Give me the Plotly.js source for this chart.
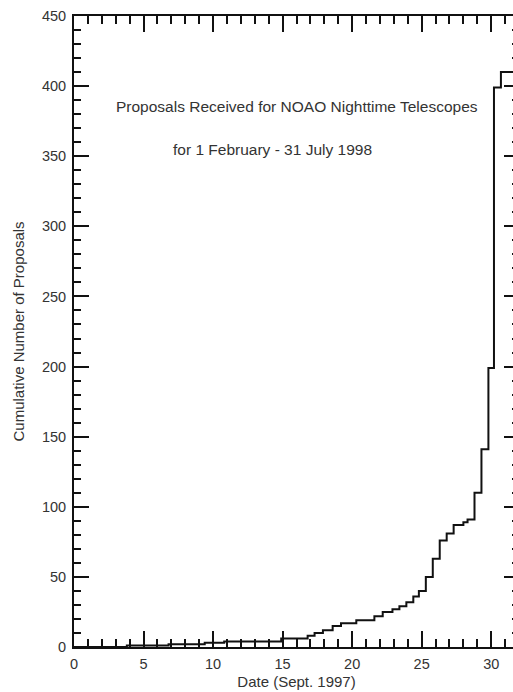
<!DOCTYPE html>
<html>
<head>
<meta charset="utf-8">
<script src="https://cdn.plot.ly/plotly-3.0.1.min.js"></script>
<style>
html, body { margin: 0; padding: 0; background: #fff; overflow: hidden; }
#chart { width: 521px; height: 692px; }
</style>
</head>
<body>
<div id="chart"></div>
<script>
// Step positions (day of Sept. 1997) and cumulative proposal counts
const days = [0, 3.8, 6.8, 9.4, 10.8, 14.9, 16.8, 17.3, 17.9, 18.6, 19.2, 20.3, 21.6, 22.2, 22.9, 23.4, 23.9, 24.4, 24.8, 25.3, 25.8, 26.3, 26.8, 27.3, 28.0, 28.3, 28.8, 29.3, 29.8, 30.2, 30.7, 32];
const cumulative = [0, 1, 2, 3, 4, 6, 8, 10, 12, 15, 17, 19, 22, 25, 27, 29, 32, 36, 40, 50, 63, 76, 81, 87, 89, 91, 110, 141, 199, 399, 410, 410];

const xTicks = [0, 5, 10, 15, 20, 25, 30];
const yTicks = [0, 50, 100, 150, 200, 250, 300, 350, 400, 450];

const titleLine1 = "Proposals Received for NOAO Nighttime Telescopes";
const titleLine2 = "for 1 February - 31 July 1998";
const xTitle = "Date (Sept. 1997)";
const yTitle = "Cumulative Number of Proposals";

const font = "Liberation Sans, Arial, Helvetica, sans-serif";
const textColor = "#333";

const trace = {
  x: days,
  y: cumulative,
  type: "scatter",
  mode: "lines",
  line: { shape: "hv", color: "#111", width: 2 },
  hoverinfo: "skip"
};

const layout = {
  width: 521,
  height: 692,
  margin: { l: 74, r: 2, t: 16, b: 45 },
  paper_bgcolor: "#fff",
  plot_bgcolor: "#fff",
  showlegend: false,
  font: { family: font, color: textColor, size: 15 },
  xaxis: {
    range: [0, 32],
    tickvals: xTicks,
    ticktext: xTicks.map(String),
    ticks: "inside",
    ticklen: 16,
    tickwidth: 2,
    tickcolor: "#111",
    minor: { dtick: 1, ticks: "inside", ticklen: 8, tickwidth: 2, tickcolor: "#111", showgrid: false },
    showline: true,
    linecolor: "#111",
    linewidth: 2,
    mirror: "ticks",
    showgrid: false,
    zeroline: false,
    ticklabelstandoff: 3,
    tickfont: { family: font, size: 14.5, color: textColor },
    title: { text: xTitle, font: { family: font, size: 15, color: textColor }, standoff: 5 }
  },
  yaxis: {
    range: [0, 450],
    tickvals: yTicks,
    ticktext: yTicks.map(String),
    ticks: "inside",
    ticklen: 15,
    tickwidth: 2,
    tickcolor: "#111",
    minor: { dtick: 10, ticks: "inside", ticklen: 7, tickwidth: 2, tickcolor: "#111", showgrid: false },
    showline: true,
    linecolor: "#111",
    linewidth: 2,
    mirror: "ticks",
    showgrid: false,
    zeroline: false,
    ticklabelstandoff: 3,
    tickfont: { family: font, size: 14.5, color: textColor },
    title: { text: yTitle, font: { family: font, size: 15, color: textColor }, standoff: 14 }
  },
  annotations: [
    { x: 2.91, y: 385.5, xref: "x", yref: "y", text: titleLine1, showarrow: false,
      xanchor: "left", yanchor: "middle", font: { family: font, size: 15.5, color: textColor } },
    { x: 6.99, y: 354.8, xref: "x", yref: "y", text: titleLine2, showarrow: false,
      xanchor: "left", yanchor: "middle", font: { family: font, size: 15.5, color: textColor } }
  ]
};

Plotly.newPlot("chart", [trace], layout, { staticPlot: true, displayModeBar: false });
</script>
</body>
</html>
